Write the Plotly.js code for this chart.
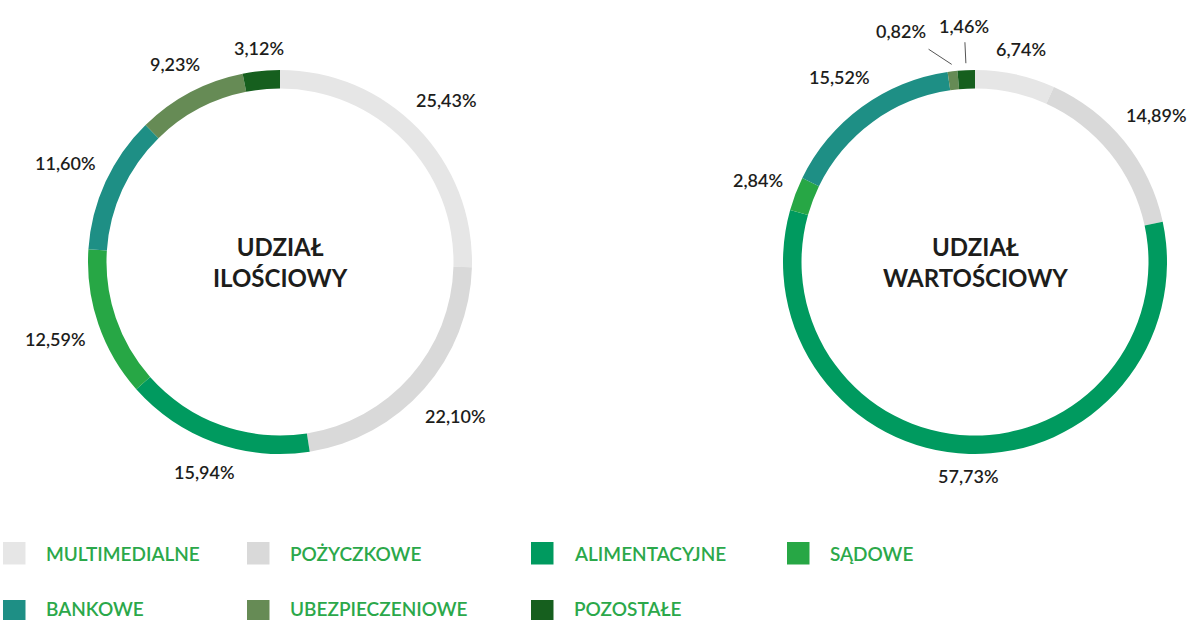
<!DOCTYPE html>
<html><head><meta charset="utf-8">
<script src="https://cdn.plot.ly/plotly-3.0.1.min.js"></script>
<style>html,body{margin:0;padding:0;background:#fff;} #chart{width:1201px;height:620px;}</style>
</head><body><div id="chart"></div>
<script>
// ---- data ----
const categories = ['MULTIMEDIALNE','POŻYCZKOWE','ALIMENTACYJNE','SĄDOWE','BANKOWE','UBEZPIECZENIOWE','POZOSTAŁE'];
const quantityShare = [25.43, 22.10, 15.94, 12.59, 11.60, 9.23, 3.12];
const valueShare = [6.74, 14.89, 57.73, 2.84, 15.52, 0.82, 1.46];
const centerTitles = ['UDZIAŁ<br>ILOŚCIOWY', 'UDZIAŁ<br>WARTOŚCIOWY'];

// ---- style / layout ----
const colors = ['#e6e6e6','#d9d9d9','#009a5f','#27a745','#1e8f85','#668b55','#165f1e'];
const W = 1201, H = 620;
const FONT = 'Lato, "Open Sans", sans-serif';
const LABEL_SIZE = 18, LABEL_WEIGHT = 600;
const TEXT_COLOR = '#1d1d1b', LEGEND_TEXT = '#2ba84a';
const pies = [
  {cx: 280, cy: 262, r: 192, values: quantityShare, title: centerTitles[0]},
  {cx: 975, cy: 262, r: 192, values: valueShare, title: centerTitles[1]}
];
const RING = 18.5;
const R0 = 206, LEAD = 22, PADX = 12, PADY = 2;
const legendColX = [3, 247, 531, 787];
const legendRowTop = [542, 600];
const SQ = 22.5, LEG_TEXT_DX = 41, LEG_SIZE = 19;

const px = x => x / W, py = y => 1 - y / H;
const fmt = v => v.toFixed(2).replace('.', ',') + '%';

const cv = document.createElement('canvas').getContext('2d');
cv.font = LABEL_WEIGHT + ' ' + LABEL_SIZE + 'px Lato';
const measure = t => cv.measureText(t).width;

const annotations = [], shapes = [], traces = [];

pies.forEach(p => {
  traces.push({
    type: 'pie', values: p.values, labels: categories, sort: false,
    direction: 'clockwise', rotation: 0, hole: (p.r - RING) / p.r,
    marker: {colors: colors, line: {width: 0}},
    textinfo: 'none', hoverinfo: 'none', showlegend: false,
    domain: {x: [px(p.cx - p.r), px(p.cx + p.r)], y: [py(p.cy + p.r), py(p.cy - p.r)]}
  });
  annotations.push({
    x: px(p.cx), y: py(p.cy), xref: 'paper', yref: 'paper', showarrow: false,
    text: p.title, xanchor: 'center', yanchor: 'middle', align: 'center',
    font: {family: FONT, size: 24, color: TEXT_COLOR, weight: 700}
  });
  const tot = p.values.reduce((a, b) => a + b, 0);
  let cum = 0;
  const labs = p.values.map((v, i) => {
    const mid = (cum + v / 2) / tot * 360; cum += v;
    const text = fmt(v);
    return {text, mid, ang: mid, small: v / tot < 0.02, w: measure(text), h: 14};
  });
  const place = l => {
    const t = l.ang * Math.PI / 180, s = Math.sin(t), c = Math.cos(t);
    const R = R0 + (l.small ? LEAD : 0) + Math.abs(l.w / 2 * s) + Math.abs(l.h / 2 * c);
    l.x = p.cx + R * s; l.y = p.cy - R * c;
  };
  const overlap = (a, b) => Math.abs(a.x - b.x) < (a.w + b.w) / 2 + PADX && Math.abs(a.y - b.y) < (a.h + b.h) / 2 + PADY;
  labs.forEach(place);
  const n = labs.length;
  let g = 0;
  while (overlap(labs[n - 1], labs[0]) && g++ < 90) { labs[n - 1].ang -= 1; place(labs[n - 1]); }
  for (let i = n - 2; i >= 0; i--) {
    g = 0;
    while (overlap(labs[i], labs[i + 1]) && g++ < 90) { labs[i].ang -= 1; place(labs[i]); }
  }
  labs.forEach(l => {
    annotations.push({
      x: px(l.x), y: py(l.y), xref: 'paper', yref: 'paper', showarrow: false,
      text: l.text, xanchor: 'center', yanchor: 'middle',
      font: {family: FONT, size: LABEL_SIZE, color: TEXT_COLOR, weight: LABEL_WEIGHT}
    });
    if (l.small) {
      const t = l.mid * Math.PI / 180;
      const sx = p.cx + (p.r + 7) * Math.sin(t), sy = p.cy - (p.r + 7) * Math.cos(t);
      const dx = l.x - sx, dy = l.y - sy, d = Math.hypot(dx, dy);
      const ux = dx / d, uy = dy / d;
      const sup = Math.abs(l.w / 2 * ux) + Math.abs(l.h / 2 * uy) + 8;
      const ex = sx + ux * (d - sup), ey = sy + uy * (d - sup);
      shapes.push({type: 'line', xref: 'paper', yref: 'paper', x0: px(sx), y0: py(sy), x1: px(ex), y1: py(ey),
        line: {color: '#555555', width: 1}});
    }
  });
});

// legend
categories.forEach((c, i) => {
  const col = i % 4, row = Math.floor(i / 4);
  const x = legendColX[col], y = legendRowTop[row];
  shapes.push({type: 'rect', xref: 'paper', yref: 'paper', x0: px(x), x1: px(x + SQ), y0: py(y + SQ), y1: py(y),
    fillcolor: colors[i], line: {width: 0}});
  const ty = Math.min(y + SQ / 2, H - 12);
  annotations.push({x: px(x + LEG_TEXT_DX), y: py(ty), xref: 'paper', yref: 'paper', showarrow: false,
    text: c, xanchor: 'left', yanchor: 'middle',
    font: {family: FONT, size: LEG_SIZE, color: LEGEND_TEXT, weight: 600}});
});

Plotly.newPlot('chart', traces, {
  width: W, height: H, margin: {l: 0, r: 0, t: 0, b: 0},
  paper_bgcolor: '#ffffff', plot_bgcolor: '#ffffff',
  showlegend: false, annotations, shapes
}, {staticPlot: true, displayModeBar: false});
</script>
</body></html>
